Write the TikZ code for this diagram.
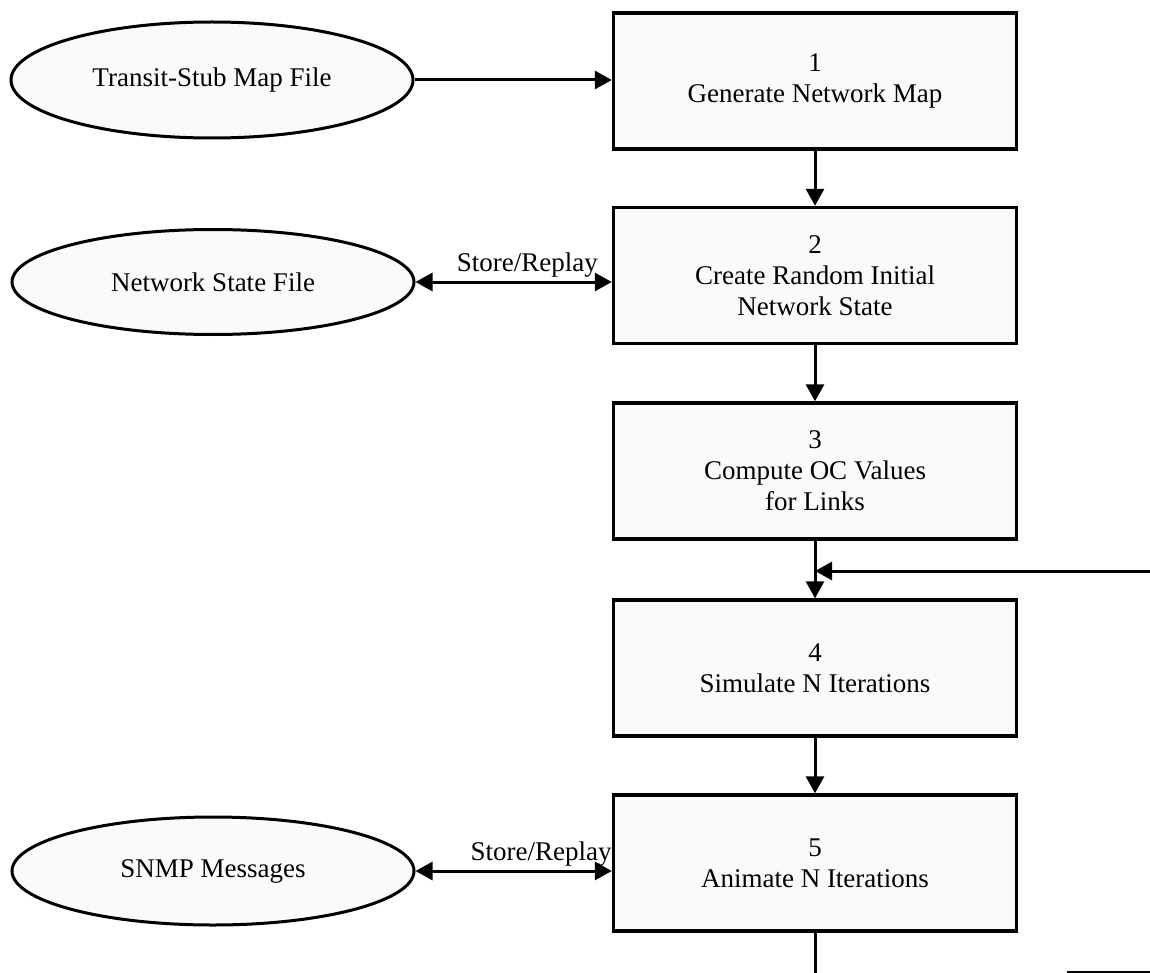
\documentclass[tikz,border=0pt]{standalone}
\usepackage{fontspec}
\setmainfont{Liberation Serif}
\usetikzlibrary{arrows.meta,shapes.geometric}
\begin{document}
\begin{tikzpicture}[x=0.5pt,y=-0.5pt,
  every node/.style={font=\fontsize{13.5}{15.5}\selectfont},
  procbox/.style={draw, line width=1.7pt, fill=gray!4, minimum width=201.5pt,
    minimum height=68pt, align=center, inner sep=0pt},
  datafile/.style={draw, ellipse, line width=1.5pt, fill=gray!4, minimum width=201pt,
    inner sep=0pt},
  tip/.tip={Triangle[length=8.5pt,width=9pt]},
  flow/.style={line width=1.5pt, -tip},
  biflow/.style={line width=1.5pt, tip-tip},
  plain/.style={line width=1.5pt},
  lbl/.style={above, inner sep=1.5pt}]
\useasboundingbox (0,0) rectangle (1150,973);

% process steps
\node[procbox] (b1) at (815,81)    {1\\Generate Network Map};
\node[procbox] (b2) at (815,275.5) {2\\Create Random Initial\\Network State};
\node[procbox] (b3) at (815,471)   {3\\Compute OC Values\\for Links};
\node[procbox] (b4) at (815,668)   {4\\Simulate N Iterations};
\node[procbox] (b5) at (815,863)   {5\\Animate N Iterations};

% data stores
\node[datafile, minimum height=58pt]   (e1) at (212,80)  {Transit-Stub Map File};
\node[datafile, minimum height=52.5pt] (e2) at (213,282) {Network State File};
\node[datafile, minimum height=54pt]   (e3) at (213,871) {SNMP Messages};

% helper points
\coordinate (fb)  at (1150,571);
\coordinate (jn)  at (815,571);
\coordinate (out) at (815,973);
\coordinate (s1)  at (1067,972);
\coordinate (s2)  at (1150,972);

% connectors
\draw[flow] (e1.east) -- (b1.west |- e1.east);
\draw[biflow] (e2.east) -- node[lbl, pos=0.57] {Store/Replay} (b2.west |- e2.east);
\draw[biflow] (e3.east) -- node[lbl, pos=0.64] {Store/Replay} (b5.west |- e3.east);
\draw[flow] (b1) -- (b2);
\draw[flow] (b2) -- (b3);
\draw[flow] (b3) -- (b4);
\draw[flow] (b4) -- (b5);
\draw[flow] (fb) -- (jn);
\draw[plain] (b5.south) -- (out);
\draw[line width=0.8pt] (s1) -- (s2);
\end{tikzpicture}
\end{document}
